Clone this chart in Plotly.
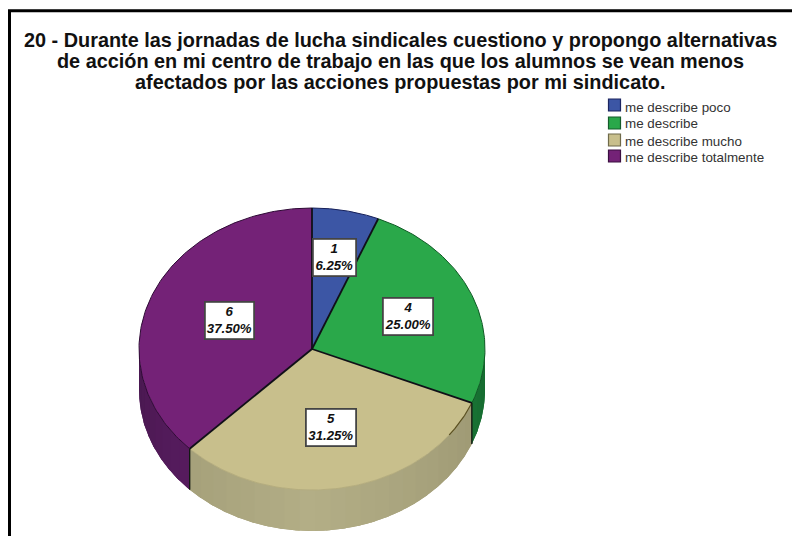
import numpy as np
import plotly.graph_objects as go

# ---- data ----
categories = ["me describe poco", "me describe", "me describe mucho", "me describe totalmente"]
counts = [1, 4, 5, 6]
percents = [6.25, 25.00, 31.25, 37.50]
title_lines = [
    "20 - Durante las jornadas de lucha sindicales cuestiono y propongo alternativas",
    "de acción en mi centro de trabajo en las que los alumnos se vean menos",
    "afectados por las acciones propuestas por mi sindicato.",
]
# ---- style ----
top_colors = ["#3c56a5", "#2aa84a", "#c8bf8c", "#742277"]
arc_colors = ["#16205a", "#0f5a25", "#b5ad7e", "#2e0a35"]
side_dark = ["#2a3c75", "#166a30", "#98936f", "#48184f"]
side_light = ["#34498c", "#1f8a3c", "#b3ae86", "#651f6d"]
swatch_edges = ["#1c2560", "#155c2a", "#6f6a4a", "#3a0f40"]
W, H = 792, 536
cx, cy, rx, ry, depth = 312, 349, 173, 141, 41
label_pos = [(334, 257), (408, 316.5), (331, 427), (229, 320.5)]
label_size = [(41, 35), (48, 35), (48, 35), (47, 35)]
title_y = [39.5, 60.5, 81.5]
legend_sw_x = 614.5
legend_sw_y = [105, 123, 140, 156]
legend_tx_x = 624
legend_tx_y = [107, 123, 141, 157]


def pt(theta):
    """Clockwise angle from 12 o'clock, degrees, to plot coordinates."""
    t = np.radians(theta)
    return cx + rx * np.sin(t), cy - ry * np.cos(t)


def mix(a, b, f):
    ca = [int(a[i:i + 2], 16) for i in (1, 3, 5)]
    cb = [int(b[i:i + 2], 16) for i in (1, 3, 5)]
    return "#%02x%02x%02x" % tuple(round(x + (y - x) * f) for x, y in zip(ca, cb))


def wall(fig, s0, s1, color):
    th = np.linspace(s0, s1, 24)
    x, y = pt(th)
    fig.add_trace(go.Scatter(x=np.concatenate([x, x[::-1]]), y=np.concatenate([y, y[::-1] + depth]),
                             mode="lines", fill="toself", fillcolor=color,
                             line=dict(width=0), hoverinfo="skip", showlegend=False))


fig = go.Figure()
edges = np.concatenate([[0], np.cumsum(percents)]) * 3.6

# side wall of the pie, visible between 3 o'clock and 9 o'clock
for i in range(len(counts)):
    a0, a1 = max(edges[i], 90), min(edges[i + 1], 270)
    if a1 <= a0:
        continue
    wall(fig, a0, a1, mix(side_dark[i], side_light[i], 0.5))
    strips = np.linspace(a0, a1, max(2, int((a1 - a0) / 5)) + 1)
    for s0, s1 in zip(strips[:-1], strips[1:]):
        f = max(0.0, 1 - abs((s0 + s1) / 2 - 180) / 90)
        wall(fig, s0, min(s1 + 1.5, a1), mix(side_dark[i], side_light[i], f))

# top face
for i in range(len(counts)):
    th = np.linspace(edges[i], edges[i + 1], 120)
    x, y = pt(th)
    fig.add_trace(go.Scatter(x=np.concatenate([[cx], x, [cx]]), y=np.concatenate([[cy], y, [cy]]),
                             mode="lines", fill="toself", fillcolor=top_colors[i],
                             line=dict(width=0), hoverinfo="skip", showlegend=False))
    fig.add_trace(go.Scatter(x=x, y=y, mode="lines", line=dict(color=arc_colors[i], width=1),
                             hoverinfo="skip", showlegend=False))

# dark rim at the right end of the tan slice
x, y = pt(np.linspace(edges[2], edges[2] + 15, 20))
fig.add_trace(go.Scatter(x=x, y=y, mode="lines", line=dict(color="#5a4f20", width=1.2),
                         hoverinfo="skip", showlegend=False))

# radial dividers and the vertical edges on the wall
for a in edges[:-1]:
    x, y = pt(a)
    fig.add_trace(go.Scatter(x=[cx, x], y=[cy, y], mode="lines", line=dict(color="#101018", width=1.8),
                             hoverinfo="skip", showlegend=False))
    if 90 < a < 270:
        fig.add_trace(go.Scatter(x=[x, x], y=[y, y + depth], mode="lines",
                                 line=dict(color="#121a12", width=1.4), hoverinfo="skip", showlegend=False))

# legend
for name, c, e, sy, ty in zip(categories, top_colors, swatch_edges, legend_sw_y, legend_tx_y):
    fig.add_trace(go.Scatter(x=[legend_sw_x], y=[sy], mode="markers", name=name, hoverinfo="name",
                             showlegend=False,
                             marker=dict(symbol="square", size=12, color=c, line=dict(color=e, width=1.2))))
    fig.add_annotation(x=legend_tx_x, y=ty, text=name, showarrow=False, xanchor="left", yanchor="middle",
                       xshift=-1, font=dict(family="Liberation Sans", size=13.4, color="#333333"))

# value labels
for n, p, (lx, ly), (bw, bh) in zip(counts, percents, label_pos, label_size):
    fig.add_annotation(x=lx, y=ly, text=f"<b><i>{n}<br>{p:.2f}%</i></b>", showarrow=False,
                       width=bw, height=bh, align="center", valign="middle",
                       font=dict(family="Liberation Sans", size=13.2, color="#111111"),
                       bgcolor="#ffffff", bordercolor="#444444", borderwidth=1.8, borderpad=0)

# title
for line, ty in zip(title_lines, title_y):
    fig.add_annotation(x=400, y=ty, text=f"<b>{line}</b>", showarrow=False, xanchor="center", yanchor="middle",
                       font=dict(family="Liberation Sans", size=19.85, color="#111111"))

# frame
fig.add_shape(type="rect", x0=9.5, y0=10.8, x1=830, y1=600, line=dict(color="#000000", width=3), layer="below")

fig.update_layout(
    width=W, height=H, autosize=False,
    margin=dict(l=0, r=0, t=0, b=0),
    paper_bgcolor="#ffffff", plot_bgcolor="#ffffff",
    xaxis=dict(range=[0, W], visible=False, fixedrange=True),
    yaxis=dict(range=[H, 0], visible=False, fixedrange=True),
    showlegend=False,
)
fig.write_html("out.html", config={"displayModeBar": False},
               post_script="document.body.style.margin='0';document.body.style.overflow='hidden';")
